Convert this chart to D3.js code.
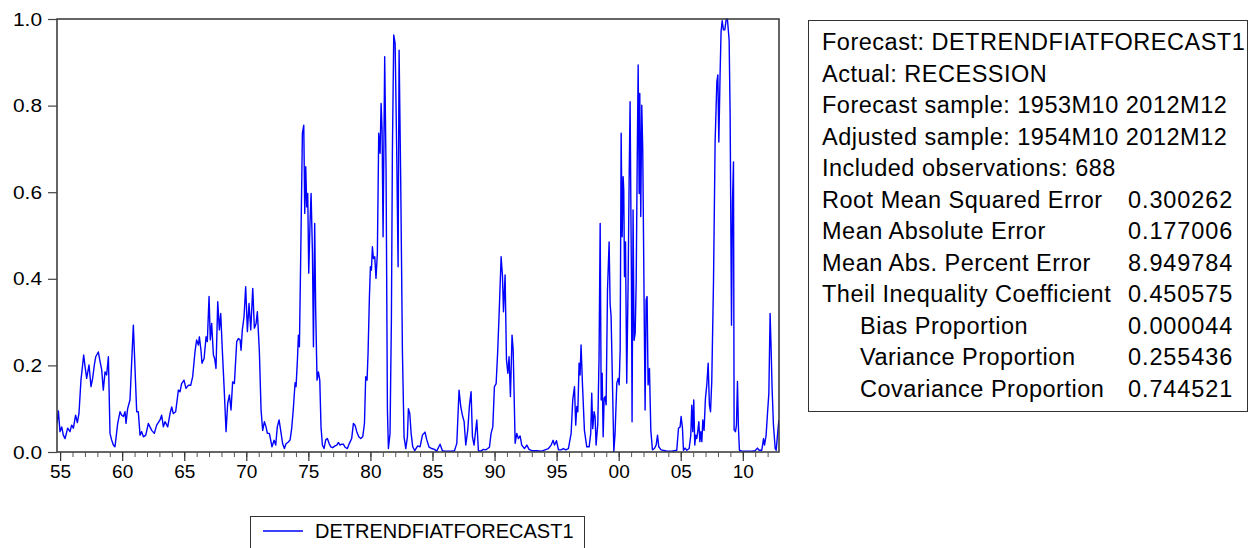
<!DOCTYPE html>
<html>
<head>
<meta charset="utf-8">
<script src="https://cdn.jsdelivr.net/npm/d3@7"></script>
<style>
  html, body { margin: 0; padding: 0; background: #fff; }
  svg { display: block; }
  text { font-family: "Liberation Sans", Arial, sans-serif; fill: #000; }
</style>
</head>
<body>
<svg id="chart" width="1260" height="548"></svg>
<script>
// ---- Data (decimal year of observation, forecast value) ----
const obsDates = [
1954.75,1954.86,1954.99,1955.13,1955.26,1955.40,1955.61,1955.80,1955.93,1956.07,1956.25,1956.39,1956.52,1956.68,1956.90,
1957.01,1957.14,1957.33,1957.49,1957.62,1957.76,1957.87,1958.08,1958.22,1958.35,1958.48,1958.62,1958.75,1958.89,1959.02,
1959.15,1959.29,1959.42,1959.64,1959.83,1959.96,1960.10,1960.23,1960.31,1960.44,1960.63,1960.90,1961.17,1961.30,1961.44,
1961.57,1961.71,1961.90,1962.11,1962.24,1962.38,1962.59,1962.78,1963.05,1963.18,1963.32,1963.45,1963.67,1963.86,1963.99,
1964.12,1964.31,1964.53,1964.66,1964.79,1964.98,1965.14,1965.33,1965.52,1965.68,1965.87,1966.00,1966.14,1966.22,1966.35,
1966.43,1966.60,1966.76,1966.86,1967.00,1967.10,1967.21,1967.35,1967.45,1967.56,1967.70,1967.83,1967.94,1968.07,1968.21,
1968.37,1968.50,1968.64,1968.77,1968.90,1969.04,1969.23,1969.36,1969.50,1969.58,1969.68,1969.82,1969.95,1970.09,1970.22,
1970.36,1970.52,1970.65,1970.79,1970.89,1971.05,1971.19,1971.32,1971.46,1971.59,1971.70,1971.86,1971.97,1972.07,1972.24,
1972.37,1972.50,1972.64,1972.77,1972.93,1973.07,1973.20,1973.39,1973.53,1973.66,1973.79,1973.93,1974.01,1974.12,1974.20,
1974.28,1974.41,1974.52,1974.63,1974.71,1974.79,1974.87,1974.95,1975.03,1975.14,1975.22,1975.33,1975.41,1975.51,1975.59,
1975.70,1975.81,1975.92,1976.02,1976.13,1976.26,1976.40,1976.53,1976.67,1976.80,1976.96,1977.15,1977.29,1977.42,1977.55,
1977.69,1977.82,1977.96,1978.14,1978.31,1978.49,1978.63,1978.76,1978.90,1979.06,1979.22,1979.38,1979.52,1979.62,1979.73,
1979.81,1979.92,1980.00,1980.08,1980.16,1980.24,1980.35,1980.45,1980.56,1980.67,1980.78,1980.86,1980.94,1981.02,1981.15,
1981.26,1981.37,1981.45,1981.58,1981.69,1981.77,1981.88,1981.99,1982.12,1982.23,1982.31,1982.44,1982.58,1982.71,1982.85,
1982.98,1983.06,1983.17,1983.28,1983.41,1983.57,1983.81,1984.00,1984.19,1984.40,1984.54,1984.73,1984.94,1985.16,1985.34,
1985.61,1985.80,1986.02,1986.28,1986.55,1986.77,1986.96,1987.14,1987.28,1987.41,1987.55,1987.68,1987.84,1987.98,1988.11,
1988.22,1988.35,1988.57,1988.70,1988.89,1989.10,1989.29,1989.45,1989.59,1989.72,1989.86,1989.99,1990.13,1990.26,1990.39,
1990.53,1990.64,1990.72,1990.85,1990.96,1991.07,1991.17,1991.28,1991.41,1991.50,1991.66,1991.79,1991.92,1992.06,1992.19,
1992.41,1992.60,1992.78,1993.00,1993.40,1993.80,1994.07,1994.34,1994.56,1994.72,1994.83,1994.99,1995.15,1995.36,1995.55,
1995.74,1995.95,1996.17,1996.30,1996.44,1996.54,1996.63,1996.71,1996.81,1996.89,1996.97,1997.08,1997.24,1997.43,1997.62,
1997.75,1997.83,1997.91,1998.02,1998.10,1998.18,1998.32,1998.42,1998.51,1998.59,1998.67,1998.75,1998.83,1998.91,1998.99,
1999.10,1999.23,1999.31,1999.39,1999.50,1999.61,1999.71,1999.85,1999.96,2000.04,2000.12,2000.20,2000.28,2000.36,2000.41,
2000.47,2000.55,2000.65,2000.76,2000.84,2000.92,2001.03,2001.08,2001.16,2001.24,2001.33,2001.41,2001.49,2001.57,2001.65,
2001.70,2001.78,2001.86,2001.94,2002.05,2002.13,2002.21,2002.29,2002.37,2002.48,2002.59,2002.72,2002.88,2003.02,2003.13,
2003.23,2003.42,2003.74,2003.88,2004.28,2004.68,2004.82,2004.95,2005.03,2005.14,2005.22,2005.35,2005.49,2005.68,2005.81,
2005.89,2005.97,2006.05,2006.13,2006.21,2006.29,2006.37,2006.46,2006.54,2006.62,2006.70,2006.78,2006.88,2006.99,2007.10,
2007.21,2007.31,2007.40,2007.50,2007.64,2007.77,2007.91,2007.99,2008.07,2008.17,2008.25,2008.34,2008.44,2008.55,2008.66,
2008.76,2008.90,2008.98,2009.09,2009.17,2009.25,2009.30,2009.41,2009.49,2009.57,2009.65,2009.73,2009.92,2010.32,2010.73,
2010.99,2011.18,2011.32,2011.53,2011.67,2011.75,2011.88,2011.99,2012.10,2012.20,2012.28,2012.36,2012.47,2012.61,2012.69,
2012.77,2012.88,2012.92
];
const forecast = [
0.066,0.095,0.047,0.058,0.039,0.031,0.055,0.047,0.062,0.055,0.085,0.068,0.089,0.166,0.224,
0.197,0.170,0.201,0.151,0.170,0.201,0.220,0.231,0.209,0.190,0.143,0.185,0.178,0.220,0.043,
0.028,0.016,0.012,0.066,0.093,0.085,0.082,0.093,0.066,0.100,0.120,0.293,0.093,0.093,0.039,
0.047,0.035,0.039,0.066,0.058,0.050,0.043,0.062,0.074,0.085,0.058,0.070,0.058,0.089,0.104,
0.089,0.093,0.143,0.139,0.158,0.166,0.147,0.154,0.154,0.174,0.232,0.259,0.247,0.266,0.235,
0.205,0.216,0.266,0.255,0.359,0.259,0.297,0.224,0.216,0.193,0.347,0.282,0.320,0.235,0.151,
0.047,0.112,0.132,0.097,0.162,0.158,0.255,0.262,0.259,0.235,0.282,0.313,0.382,0.278,0.343,
0.282,0.378,0.286,0.297,0.324,0.235,0.097,0.050,0.070,0.058,0.043,0.043,0.027,0.012,0.027,
0.016,0.058,0.074,0.050,0.019,0.008,0.019,0.023,0.028,0.055,0.100,0.160,0.151,0.213,0.270,
0.243,0.505,0.736,0.755,0.551,0.659,0.566,0.597,0.413,0.536,0.597,0.459,0.243,0.528,0.328,
0.166,0.185,0.166,0.058,0.016,0.008,0.028,0.031,0.020,0.012,0.010,0.014,0.016,0.022,0.016,
0.018,0.018,0.011,0.008,0.020,0.031,0.066,0.062,0.047,0.035,0.031,0.035,0.066,0.174,0.166,
0.228,0.359,0.428,0.420,0.474,0.447,0.451,0.401,0.459,0.736,0.690,0.805,0.744,0.497,0.913,
0.651,0.097,0.008,0.043,0.305,0.690,0.963,0.944,0.690,0.428,0.928,0.628,0.228,0.035,0.008,
0.035,0.100,0.089,0.043,0.012,0.003,0.014,0.012,0.039,0.046,0.028,0.011,0.008,0.006,0.002,
0.018,0.003,0.002,0.002,0.002,0.003,0.020,0.143,0.104,0.085,0.070,0.016,0.050,0.108,0.139,
0.035,0.016,0.074,0.003,0.002,0.006,0.005,0.008,0.011,0.043,0.058,0.151,0.158,0.236,0.336,
0.451,0.405,0.324,0.409,0.213,0.182,0.220,0.128,0.270,0.236,0.020,0.043,0.031,0.037,0.016,
0.008,0.016,0.006,0.003,0.003,0.002,0.005,0.008,0.016,0.027,0.016,0.026,0.005,0.005,0.008,
0.005,0.008,0.043,0.120,0.151,0.062,0.105,0.093,0.205,0.178,0.247,0.159,0.050,0.012,0.012,
0.043,0.136,0.054,0.093,0.081,0.016,0.066,0.220,0.528,0.120,0.182,0.035,0.124,0.128,0.109,
0.374,0.485,0.343,0.313,0.159,0.001,0.043,0.159,0.170,0.155,0.236,0.736,0.497,0.636,0.605,
0.405,0.485,0.159,0.389,0.620,0.809,0.389,0.070,0.559,0.258,0.274,0.389,0.659,0.894,0.597,
0.828,0.544,0.801,0.697,0.343,0.097,0.351,0.359,0.155,0.193,0.050,0.005,0.008,0.016,0.039,
0.012,0.005,0.003,0.002,0.002,0.004,0.055,0.058,0.082,0.055,0.004,0.009,0.004,0.008,0.039,
0.108,0.047,0.120,0.016,0.039,0.031,0.047,0.070,0.024,0.047,0.024,0.074,0.050,0.124,0.155,
0.205,0.108,0.093,0.163,0.393,0.716,0.855,0.871,0.716,0.871,0.971,0.996,0.975,0.975,0.998,
1.000,0.951,0.778,0.293,0.578,0.670,0.051,0.047,0.062,0.163,0.055,0.004,0.002,0.002,0.002,
0.003,0.009,0.004,0.004,0.031,0.016,0.039,0.089,0.136,0.320,0.240,0.147,0.062,0.008,0.004,
0.031,0.066,0.074
];
const sampleStart = 1954.75;       // 1954M10
const sampleEnd = 2012 + 11 / 12;  // 2012M12
const majorYears = [1955, 1960, 1965, 1970, 1975, 1980, 1985, 1990, 1995, 2000, 2005, 2010];
const majorLabels = ["55", "60", "65", "70", "75", "80", "85", "90", "95", "00", "05", "10"];
const yTickValues = [0, 0.2, 0.4, 0.6, 0.8, 1.0];
const yTickLabels = ["0.0", "0.2", "0.4", "0.6", "0.8", "1.0"];
const seriesName = "DETRENDFIATFORECAST1";
const statLabels = [
  "Forecast: DETRENDFIATFORECAST1",
  "Actual: RECESSION",
  "Forecast sample: 1953M10 2012M12",
  "Adjusted sample: 1954M10 2012M12",
  "Included observations: 688",
  "Root Mean Squared Error",
  "Mean Absolute Error",
  "Mean Abs. Percent Error",
  "Theil Inequality Coefficient",
  "Bias Proportion",
  "Variance Proportion",
  "Covariance Proportion"
];
const statValues = ["", "", "", "", "", "0.300262", "0.177006", "8.949784", "0.450575", "0.000044", "0.255436", "0.744521"];
const statIndent = [false, false, false, false, false, false, false, false, false, true, true, true];

// ---- Layout ----
const svg = d3.select("#chart");
const plot = { left: 57, right: 779, top: 19, bottom: 452 };

const x = d3.scaleLinear().domain([sampleStart, sampleEnd]).range([plot.left, plot.right]);
const y = d3.scaleLinear().domain([0, 1]).range([plot.bottom, plot.top]);

svg.append("defs").append("clipPath").attr("id", "plotclip")
  .append("rect").attr("x", plot.left).attr("y", plot.top - 1)
  .attr("width", plot.right - plot.left).attr("height", plot.bottom - plot.top + 1);

// series line
const pts = obsDates.map((d, i) => [d, forecast[i]]);
svg.append("path")
  .datum(pts)
  .attr("clip-path", "url(#plotclip)")
  .attr("fill", "none")
  .attr("stroke", "#0000ff")
  .attr("stroke-width", 1.4)
  .attr("stroke-linejoin", "round")
  .attr("d", d3.line().x(d => x(d[0])).y(d => y(d[1])));

// frame
svg.append("rect")
  .attr("x", plot.left).attr("y", plot.top)
  .attr("width", plot.right - plot.left).attr("height", plot.bottom - plot.top)
  .attr("fill", "none").attr("stroke", "#333").attr("stroke-width", 1.5);

// y axis
const yAxis = d3.axisLeft(y).tickValues(yTickValues).tickSize(9).tickPadding(6)
  .tickFormat((d, i) => yTickLabels[i]);
const gy = svg.append("g").attr("transform", `translate(${plot.left},0)`).call(yAxis);
gy.select(".domain").remove();
gy.selectAll(".tick line").attr("stroke", "#444").attr("stroke-width", 1.2);
gy.selectAll(".tick text")
  .attr("font-family", "Liberation Sans, Arial, sans-serif")
  .attr("font-size", 19).attr("fill", "#000");
// slight horizontal stretch of labels like the original rendering
gy.selectAll(".tick text").each(function () {
  const t = d3.select(this);
  const xx = +t.attr("x");
  t.attr("x", xx / 1.1).attr("transform", "scale(1.1,1)");
});

// x axis, minor ticks each year
const minorYears = d3.range(1955, 2013);
const xMinor = d3.axisBottom(x).tickValues(minorYears).tickSize(5).tickFormat("");
const gxm = svg.append("g").attr("transform", `translate(0,${plot.bottom})`).call(xMinor);
gxm.select(".domain").remove();
gxm.selectAll(".tick line").attr("stroke", "#555").attr("stroke-width", 1);

const xMajor = d3.axisBottom(x).tickValues(majorYears).tickSize(9).tickPadding(4)
  .tickFormat((d, i) => majorLabels[i]);
const gx = svg.append("g").attr("transform", `translate(0,${plot.bottom})`).call(xMajor);
gx.select(".domain").remove();
gx.selectAll(".tick line").attr("stroke", "#333").attr("stroke-width", 1.2);
gx.selectAll(".tick text")
  .attr("font-family", "Liberation Sans, Arial, sans-serif")
  .attr("font-size", 19).attr("fill", "#000");

// ---- Statistics box ----
const box = { x: 808, y: 20, w: 439, h: 391 };
svg.append("rect").attr("x", box.x + 0.5).attr("y", box.y + 0.5)
  .attr("width", box.w).attr("height", box.h)
  .attr("fill", "#fff").attr("stroke", "#333").attr("stroke-width", 1);
const rowY = d3.scaleLinear().domain([0, 11]).range([42, 388.5]);
const gs = svg.append("g");
statLabels.forEach((s, i) => {
  gs.append("text")
    .attr("x", statIndent[i] ? 860 : 822)
    .attr("y", rowY(i))
    .attr("dy", "0.35em")
    .attr("font-size", 23.5)
    .attr("letter-spacing", 0.5)
    .text(s);
  if (statValues[i]) {
    gs.append("text")
      .attr("x", 1128)
      .attr("y", rowY(i))
      .attr("dy", "0.35em")
      .attr("font-size", 23.5)
      .attr("letter-spacing", 0.9)
      .text(statValues[i]);
  }
});

// ---- Legend ----
const lg = svg.append("g");
lg.append("rect").attr("x", 250.5).attr("y", 516.5).attr("width", 334).attr("height", 32)
  .attr("fill", "#fff").attr("stroke", "#333").attr("stroke-width", 1);
lg.append("line").attr("x1", 263).attr("x2", 303).attr("y1", 531).attr("y2", 531)
  .attr("stroke", "#0000ff").attr("stroke-width", 1.5);
lg.append("text").attr("x", 315).attr("y", 531).attr("dy", "0.35em")
  .attr("font-size", 20).text(seriesName);
</script>
</body>
</html>
